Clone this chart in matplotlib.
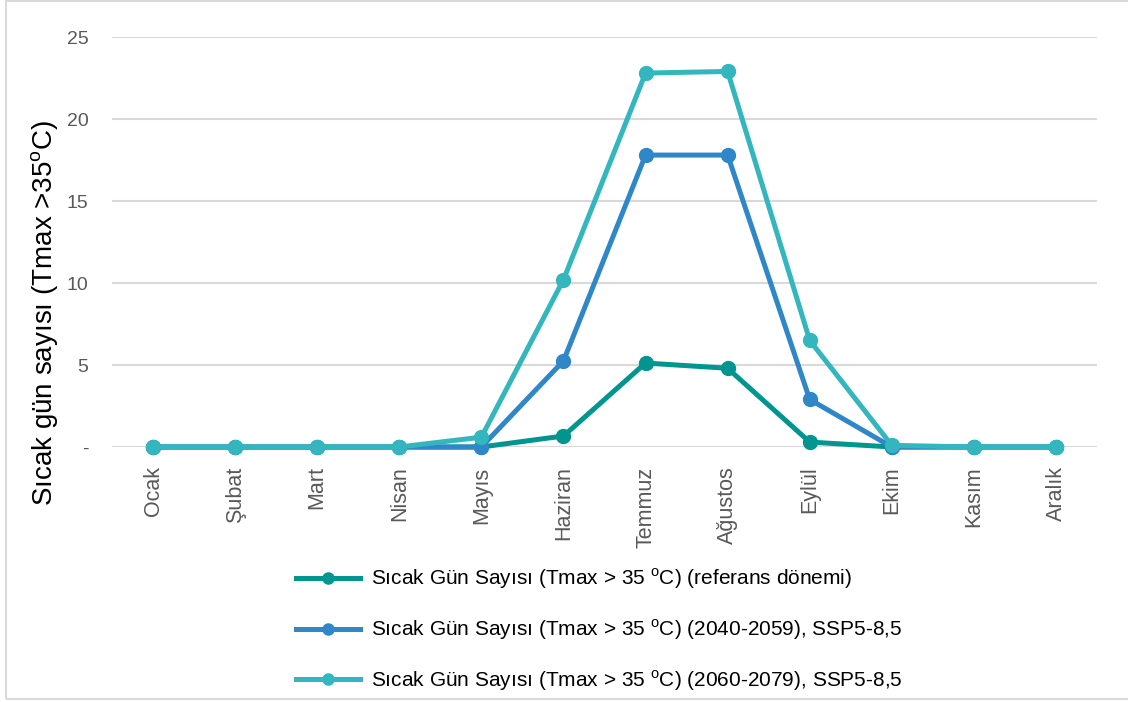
import matplotlib
matplotlib.use("Agg")
import matplotlib.pyplot as plt
from matplotlib.lines import Line2D
from matplotlib.patches import Rectangle

plt.rcParams["font.family"] = ["Liberation Sans", "DejaVu Sans"]
plt.rcParams["mathtext.fontset"] = "custom"
plt.rcParams["mathtext.rm"] = "Liberation Sans"

months = ["Ocak", "Şubat", "Mart", "Nisan", "Mayıs", "Haziran", "Temmuz",
          "Ağustos", "Eylül", "Ekim", "Kasım", "Aralık"]
ref_period = [0, 0, 0, 0, 0, 0.67, 5.12, 4.8, 0.3, 0, 0, 0]
ssp_2040 = [0, 0, 0, 0, 0, 5.25, 17.8, 17.8, 2.9, 0, 0, 0]
ssp_2060 = [0, 0, 0, 0, 0.6, 10.2, 22.8, 22.9, 6.5, 0.1, 0, 0]

labels = [
    r"Sıcak Gün Sayısı (Tmax > 35 $^{\mathrm{o}}$C) (referans dönemi)",
    r"Sıcak Gün Sayısı (Tmax > 35 $^{\mathrm{o}}$C) (2040-2059), SSP5-8,5",
    r"Sıcak Gün Sayısı (Tmax > 35 $^{\mathrm{o}}$C) (2060-2079), SSP5-8,5",
]
colors = ["#00968F", "#2F87C8", "#33B6BD"]
series = [ref_period, ssp_2040, ssp_2060]

fig = plt.figure(figsize=(11.28, 7.02), dpi=100)
fig.patches.append(Rectangle((6 / 1128, 1 - 699 / 702), 1.2, 698 / 702,
                             transform=fig.transFigure, fill=False,
                             edgecolor="#d9d9d9", lw=1.5))
ax = fig.add_axes([112 / 1128, 1 - 447 / 702, 985 / 1128, 410 / 702])

x = list(range(len(months)))
for vals, col, lab in zip(series, colors, labels):
    ax.plot(x, vals, color=col, lw=3.6, marker="o", ms=10, label=lab,
            solid_joinstyle="round", clip_on=False)

ax.set_xlim(-0.5, len(months) - 0.5)
ax.set_ylim(0, 25)
ax.set_yticks([0, 5, 10, 15, 20, 25])
ax.set_yticklabels(["-", "5", "10", "15", "20", "25"])
ax.set_xticks(x)
ax.set_xticklabels(months, rotation=90)
ax.tick_params(axis="both", length=0, labelcolor="#595959")
ax.tick_params(axis="y", pad=17, labelsize=14)
ax.tick_params(axis="x", pad=14, labelsize=15.5)
ax.grid(axis="y", color="#d9d9d9", lw=1.5)
ax.set_axisbelow(True)
for s in ax.spines.values():
    s.set_visible(False)

# axis title sits lower than the plot-area centre in the original
fig.text(45 / 1128, 1 - 313 / 702,
         r"Sıcak gün sayısı (Tmax >35$^{\mathrm{o}}$C)", fontsize=20,
         color="black", rotation=90, ha="center", va="center")

handles = [Line2D([], [], color=c, lw=3.6, marker="o", ms=8) for c in colors]
fig.legend(handles, labels, loc="upper left",
           bbox_to_anchor=(277 / 1128, 1 - 548 / 702), frameon=False,
           fontsize=15, labelspacing=1.25, handlelength=3.1,
           handletextpad=0.5, labelcolor="black")

fig.savefig("out.png", dpi=100)
